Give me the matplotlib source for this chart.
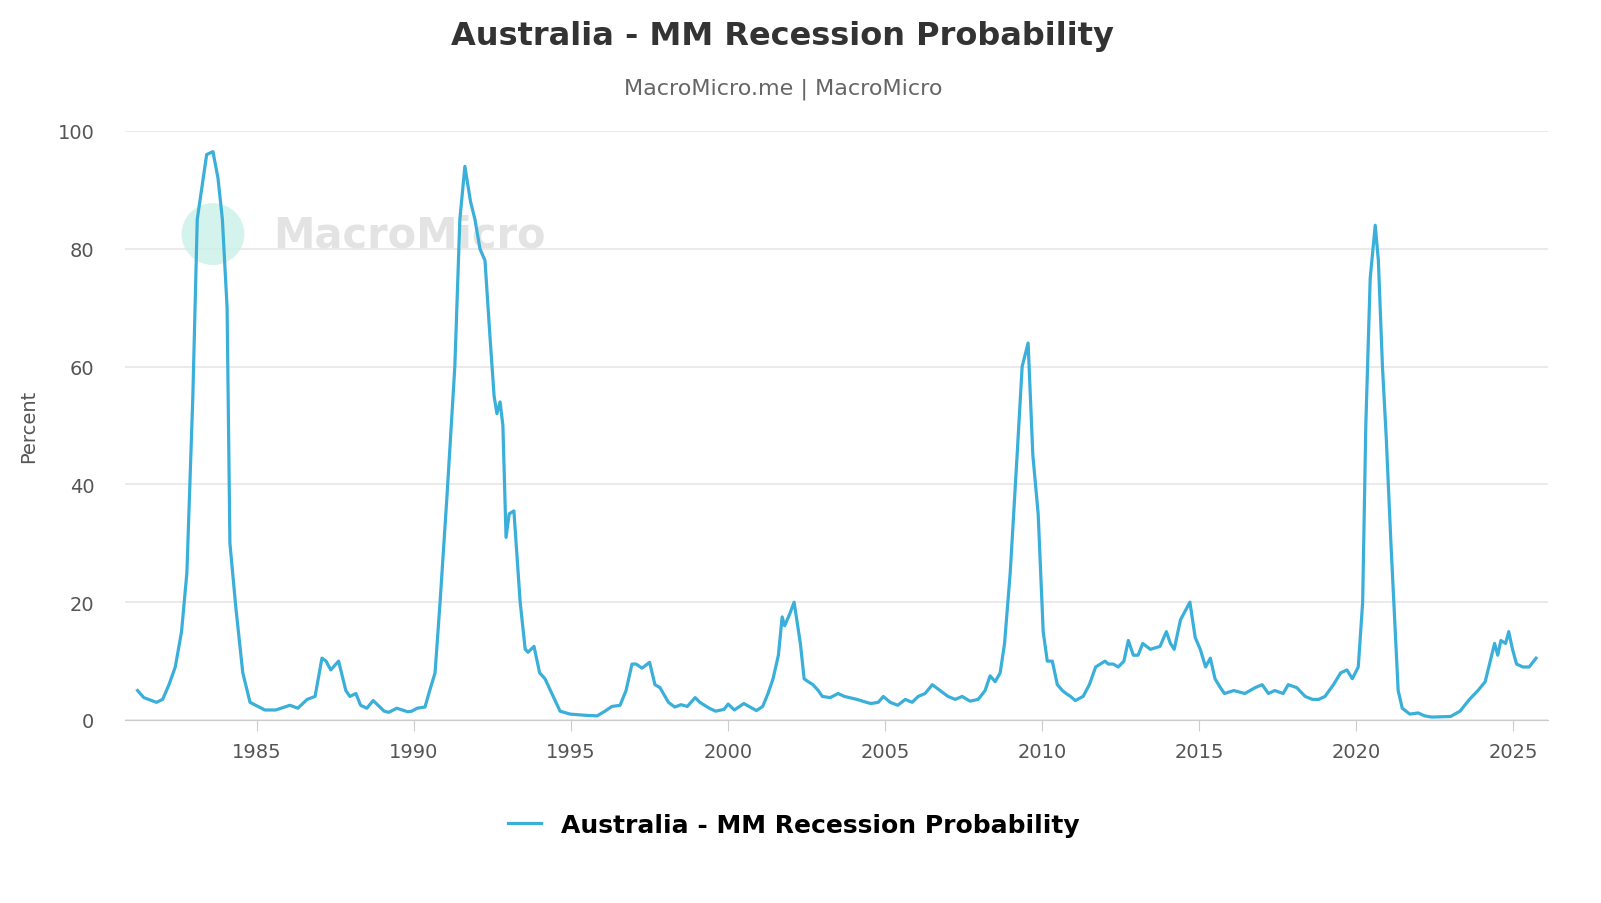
import matplotlib
matplotlib.use("Agg")
import matplotlib.pyplot as plt
from matplotlib.patches import Ellipse

years = [1981.2,1981.4,1981.8,1982.0,1982.2,1982.4,1982.6,1982.77,1982.96,1983.1,1983.4,1983.6,1983.76,1983.9,1984.05,1984.14,1984.33,1984.55,1984.78,1985.25,1985.6,1986.05,1986.3,1986.6,1986.85,1987.07,1987.2,1987.35,1987.6,1987.83,1987.96,1988.15,1988.3,1988.5,1988.7,1989.05,1989.2,1989.45,1989.8,1989.93,1990.1,1990.35,1990.5,1990.67,1990.83,1991.05,1991.3,1991.46,1991.62,1991.8,1991.94,1992.1,1992.26,1992.42,1992.55,1992.64,1992.74,1992.83,1992.93,1993.03,1993.18,1993.38,1993.54,1993.63,1993.82,1994.0,1994.17,1994.43,1994.65,1994.97,1995.45,1995.83,1996.08,1996.3,1996.56,1996.75,1996.94,1997.07,1997.26,1997.5,1997.67,1997.83,1998.1,1998.3,1998.5,1998.7,1998.95,1999.1,1999.4,1999.6,1999.87,2000.0,2000.2,2000.5,2000.7,2000.9,2001.1,2001.27,2001.43,2001.6,2001.72,2001.8,2001.96,2002.1,2002.3,2002.42,2002.55,2002.7,2002.87,2003.0,2003.25,2003.5,2003.7,2004.1,2004.4,2004.55,2004.78,2004.94,2005.16,2005.4,2005.64,2005.86,2006.05,2006.27,2006.5,2006.75,2007.0,2007.23,2007.45,2007.7,2007.96,2008.18,2008.34,2008.5,2008.66,2008.8,2008.98,2009.2,2009.36,2009.55,2009.7,2009.87,2010.03,2010.16,2010.32,2010.48,2010.64,2010.76,2010.9,2011.05,2011.3,2011.5,2011.7,2011.85,2012.0,2012.1,2012.26,2012.42,2012.6,2012.74,2012.9,2013.05,2013.2,2013.44,2013.75,2013.95,2014.08,2014.2,2014.4,2014.7,2014.87,2015.03,2015.2,2015.35,2015.5,2015.67,2015.8,2016.1,2016.45,2016.78,2017.0,2017.2,2017.4,2017.67,2017.83,2018.1,2018.37,2018.6,2018.8,2019.0,2019.27,2019.5,2019.7,2019.87,2020.06,2020.2,2020.3,2020.44,2020.6,2020.7,2020.83,2020.95,2021.1,2021.24,2021.33,2021.46,2021.7,2021.97,2022.17,2022.4,2023.0,2023.3,2023.6,2023.87,2024.1,2024.26,2024.4,2024.5,2024.6,2024.75,2024.85,2024.97,2025.1,2025.3,2025.5,2025.72]
values = [5,3.8,3,3.5,6,9,15,25,55,85,96,96.5,92,85,70,30,19,8,3,1.7,1.7,2.5,2,3.5,4,10.5,10,8.5,10,5,4,4.5,2.5,2,3.3,1.5,1.3,2,1.4,1.5,2,2.2,5,8,20,38,60,85,94,88,85,80,78,65,55,52,54,50,31,35,35.5,20,12,11.5,12.5,8,7,4,1.5,1,0.8,0.7,1.5,2.3,2.5,5,9.5,9.5,8.8,9.8,6,5.5,3,2.2,2.6,2.3,3.8,3,2,1.5,1.8,2.7,1.7,2.8,2.2,1.6,2.3,4.5,7,11,17.5,16,18,20,13,7,6.5,6,5,4,3.8,4.5,4,3.5,3,2.8,3,4,3,2.5,3.5,3,4,4.5,6,5,4,3.5,4,3.2,3.5,5,7.5,6.5,8,13,25,45,60,64,45,35,15,10,10,6,5,4.5,4,3.3,4,6,9,9.5,10,9.5,9.5,9,10,13.5,11,11,13,12,12.5,15,13,12,17,20,14,12,9,10.5,7,5.5,4.5,5,4.5,5.5,6,4.5,5,4.5,6,5.5,4,3.5,3.5,4,6,8,8.5,7,9,20,50,75,84,78,60,48,30,15,5,2,1,1.2,0.7,0.5,0.6,1.5,3.5,5,6.5,10,13,11,13.5,13,15,12,9.5,9,9,10.5]

title = "Australia - MM Recession Probability"
subtitle = "MacroMicro.me | MacroMicro"
series_name = "Australia - MM Recession Probability"
xticks = [1985, 1990, 1995, 2000, 2005, 2010, 2015, 2020, 2025]
yticks = [0, 20, 40, 60, 80, 100]

color = "#3AAFDA"
fig = plt.figure(figsize=(16.01, 9.04), dpi=100)
ax = fig.add_axes([125/1601, 183/904, 1423/1601, 589/904])
ax.plot(years, values, color=color, lw=2.3, zorder=3)
ax.set_xlim(1980.8, 2026.1)
ax.set_ylim(0, 100)
ax.set_yticks(yticks)
ax.set_xticks(xticks)
ax.grid(axis="y", color="#e6e6e6", lw=1.2)
ax.set_axisbelow(True)
for s in ["top", "right", "left"]:
    ax.spines[s].set_visible(False)
ax.spines["bottom"].set_color("#cccccc")
ax.tick_params(axis="y", length=0, labelsize=14, labelcolor="#555555", pad=22)
ax.tick_params(axis="x", length=8, color="#cccccc", labelsize=14, labelcolor="#555555", pad=8)
ax.set_ylabel("Percent", fontsize=14, color="#555555", labelpad=14)

# watermark
ax.add_patch(Ellipse((1983.6, 82.5), 2.0, 10.5, color="#c9f1e8", alpha=0.8, zorder=1, lw=0))
ax.text(1985.5, 82.5, "MacroMicro", fontsize=30, fontweight="bold", color="#e3e3e3", va="center", ha="left", zorder=1)

fig.text(0.489, 0.96, title, ha="center", va="center", fontsize=23, fontweight="bold", color="#333333")
fig.text(0.489, 0.901, subtitle, ha="center", va="center", fontsize=16, color="#666666")

ax.legend([series_name], loc="upper center", bbox_to_anchor=(0.47, -0.12), frameon=False,
          prop={"size": 18, "weight": "bold"}, handlelength=1.3)
fig.savefig("out.png", dpi=100)
